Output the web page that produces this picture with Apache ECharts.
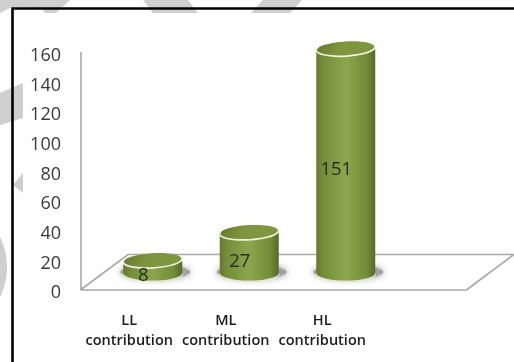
<!DOCTYPE html>
<html>
<head>
<meta charset="utf-8">
<style>html,body{margin:0;padding:0;background:#fff}#chart{width:514px;height:362px}</style>
<script src="https://cdn.jsdelivr.net/npm/echarts@6/dist/echarts.min.js"></script>
</head>
<body>
<div id="chart"></div>
<script>
// The blank last category leaves room on the floor to the right of the cylinders.
const categories = ['LL\ncontribution', 'ML\ncontribution', 'HL\ncontribution', ''];
const contributions = [8, 27, 151];
const axisMin = 0;
const axisMax = 160;
const axisStep = 20;

const FONT = '"Open Sans", sans-serif';
const FLOOR_DEPTH = { x: 47, y: -35 };
const BASE_SHIFT = { x: 23.5, y: -16.5 };
const LABEL_SHIFT = { x: 14, y: -7.5 };
const RX = 29.5, RY = 7.6, TILT = 0.06;
const FLOOR_COLOR = '#a8a8a8';
const WASH = '#cfcfcf';

const bodyFill = {
  type: 'linear', x: 0, y: 0, x2: 1, y2: 0,
  colorStops: [
    { offset: 0, color: '#647730' },
    { offset: 0.1, color: '#748c38' },
    { offset: 0.5, color: '#8ca64e' },
    { offset: 0.85, color: '#738d38' },
    { offset: 1, color: '#566a29' }
  ]
};
const capFill = {
  type: 'linear', x: 0, y: 0, x2: 0.3, y2: 1,
  colorStops: [
    { offset: 0, color: '#64762c' },
    { offset: 1, color: '#7f9640' }
  ]
};

function renderFloor(params) {
  const g = params.coordSys;
  const bottom = g.y + g.height;
  return {
    type: 'polyline',
    silent: true,
    shape: {
      points: [
        [g.x, bottom],
        [g.x + FLOOR_DEPTH.x, bottom + FLOOR_DEPTH.y],
        [g.x + g.width + FLOOR_DEPTH.x, bottom + FLOOR_DEPTH.y],
        [g.x + g.width, bottom]
      ]
    },
    style: { fill: 'none', stroke: FLOOR_COLOR, lineWidth: 1.6 }
  };
}

function renderCylinder(params, api) {
  const index = api.value(0);
  const value = api.value(1);
  const origin = api.coord([index, 0]);
  const tip = api.coord([index, value]);
  const mid = api.coord([index, value / 2]);
  const cx = origin[0] + BASE_SHIFT.x;
  const baseY = origin[1] + BASE_SHIFT.y;
  const topY = tip[1] + BASE_SHIFT.y;
  return {
    type: 'group',
    silent: true,
    children: [
      {
        type: 'ellipse',
        shape: { cx: cx + 2.5, cy: baseY - 1, rx: 35, ry: 7 },
        style: { fill: '#a3a3a3', shadowBlur: 7, shadowColor: '#999999' }
      },
      {
        type: 'ellipse',
        shape: { cx: cx, cy: baseY + 1.2, rx: RX + 0.6, ry: RY },
        style: { fill: '#e4e6d2' }
      },
      {
        type: 'ellipse',
        shape: { cx: cx, cy: baseY, rx: RX, ry: RY },
        style: { fill: bodyFill }
      },
      {
        type: 'rect',
        shape: { x: cx - RX, y: topY, width: RX * 2, height: baseY - topY },
        style: { fill: bodyFill }
      },
      {
        type: 'ellipse',
        originX: cx, originY: topY, rotation: TILT,
        shape: { cx: cx, cy: topY, rx: RX + 0.4, ry: RY },
        style: { fill: '#f2f3dc' }
      },
      {
        type: 'ellipse',
        originX: cx, originY: topY, rotation: TILT,
        shape: { cx: cx, cy: topY - 1, rx: RX - 0.8, ry: RY - 0.7 },
        style: { fill: capFill }
      },
      {
        type: 'text',
        style: {
          x: mid[0] + LABEL_SHIFT.x,
          y: mid[1] + LABEL_SHIFT.y,
          text: String(value),
          fill: '#22301a',
          font: '18.5px ' + FONT,
          align: 'center',
          verticalAlign: 'middle'
        }
      }
    ]
  };
}

const chart = echarts.init(document.getElementById('chart'), null, { renderer: 'canvas' });
chart.setOption({
  animation: false,
  backgroundColor: '#ffffff',
  grid: { left: 81, right: 47, top: 52.5, bottom: 72.5 },
  xAxis: {
    type: 'category',
    data: categories,
    boundaryGap: true,
    axisLine: { show: true, lineStyle: { color: FLOOR_COLOR, width: 1.6 } },
    axisTick: { show: false },
    axisLabel: {
      interval: 0,
      margin: 21,
      color: '#1c1c1c',
      fontFamily: FONT,
      fontWeight: 600,
      fontSize: 14.5,
      lineHeight: 20
    }
  },
  yAxis: {
    type: 'value',
    min: axisMin,
    max: axisMax,
    interval: axisStep,
    splitLine: { show: false },
    axisLine: { show: true, lineStyle: { color: FLOOR_COLOR, width: 1.6 } },
    axisTick: { show: false },
    axisLabel: {
      margin: 20,
      color: '#3a3a3a',
      fontFamily: FONT,
      fontSize: 18,
      verticalAlign: 'top',
      lineHeight: 7
    }
  },
  graphic: [
    { type: 'polygon', silent: true, shape: { points: [[0, 0], [70, 0], [56, 13], [45, 13], [41, 8], [12, 7], [0, 13]] }, style: { fill: WASH } },
    { type: 'polygon', silent: true, shape: { points: [[143, 0], [188, 0], [198, 13], [153, 13]] }, style: { fill: WASH } },
    { type: 'polygon', silent: true, shape: { points: [[263, 0], [302, 0], [290, 13], [251, 13]] }, style: { fill: WASH } },
    { type: 'polygon', silent: true, shape: { points: [[0, 93], [23, 83], [23, 118], [0, 125]] }, style: { fill: WASH } },
    { type: 'polygon', silent: true, shape: { points: [[23, 173], [13, 185], [23, 193]] }, style: { fill: WASH } },
    { type: 'circle', silent: true, shape: { cx: -61, cy: 267, r: 68 }, style: { fill: WASH } },
    // Page frame, running off the right and bottom edges
    { type: 'rect', silent: true, shape: { x: 12.5, y: 8.5, width: 540, height: 400 }, style: { fill: 'none', stroke: '#000000', lineWidth: 2.6 } }
  ],
  series: [
    {
      type: 'custom',
      name: 'floor',
      coordinateSystem: 'cartesian2d',
      renderItem: renderFloor,
      data: [[0, 0]],
      z: 1,
      silent: true
    },
    {
      type: 'custom',
      name: 'contribution',
      coordinateSystem: 'cartesian2d',
      renderItem: renderCylinder,
      encode: { x: 0, y: 1 },
      data: contributions.map((v, i) => [i, v]),
      z: 2,
      silent: true
    }
  ]
});
</script>
</body>
</html>
